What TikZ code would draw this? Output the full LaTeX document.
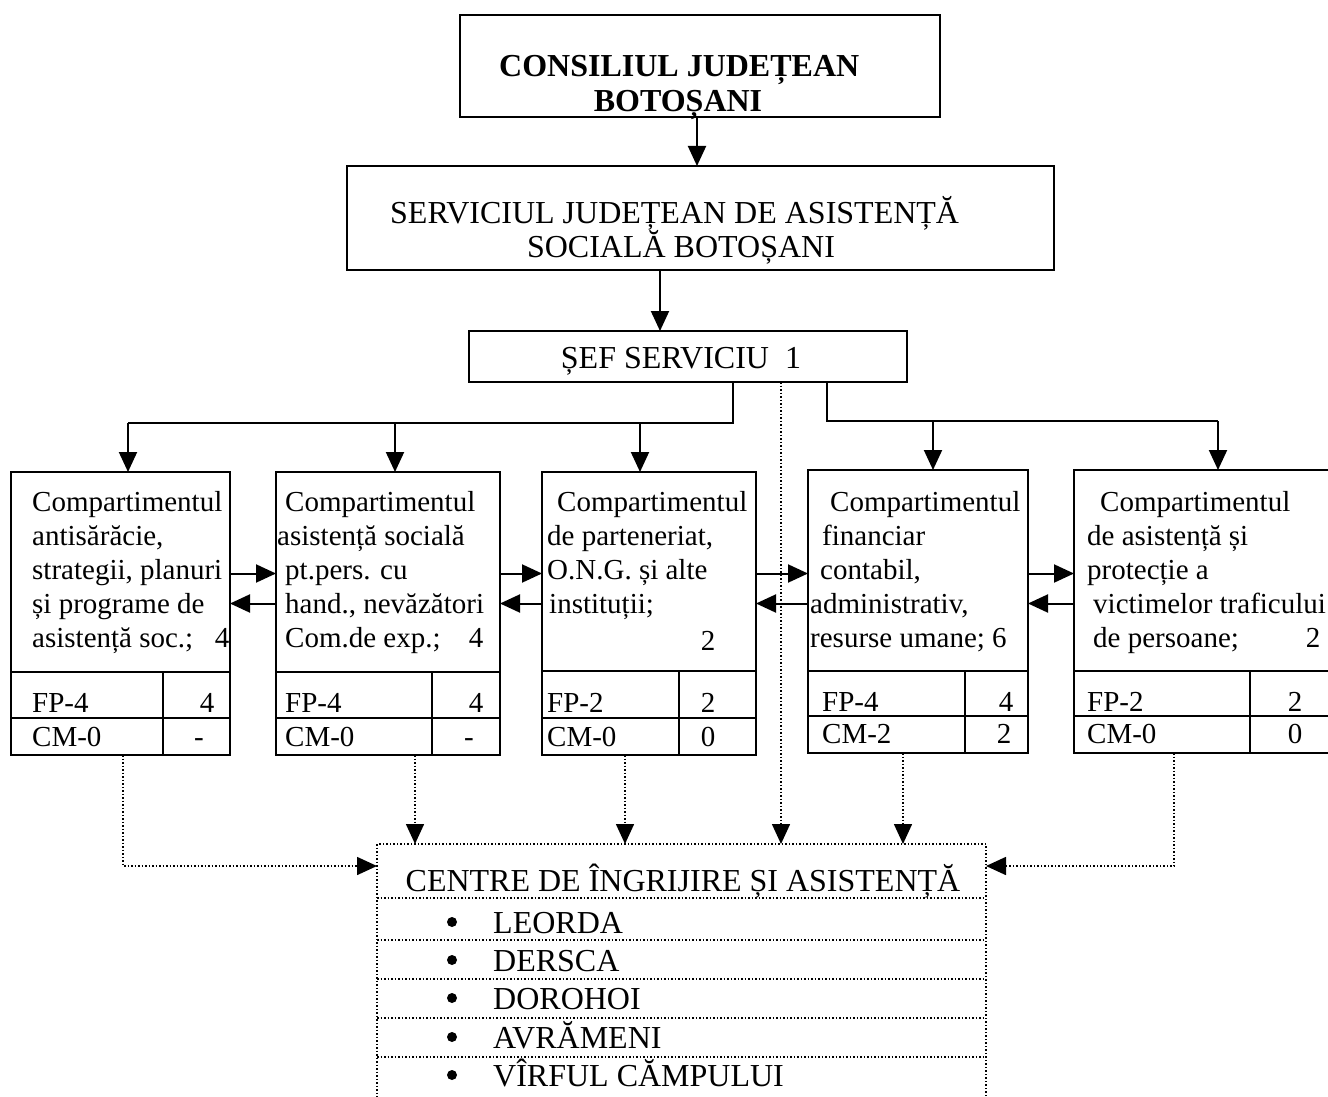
\documentclass[tikz,border=0pt]{standalone}
\usepackage{fontspec}
\setmainfont{Liberation Serif}
\usetikzlibrary{arrows.meta}
\begin{document}
\begin{tikzpicture}[x=1pt,y=-1pt,
  box/.style={draw, line width=2pt, inner sep=0pt, outer sep=0pt, anchor=north west},
  ln/.style={line width=2pt},
  arr/.style={line width=2pt, -{Triangle[length=20pt,width=18pt]}},
  dotl/.style={line width=1.6pt, dash pattern=on 1.5pt off 2pt},
  darr/.style={dotl, -{Triangle[length=20pt,width=18pt]}},
  t/.style={inner sep=0pt, anchor=base west, font=\fontsize{29}{34}\selectfont},
  tc/.style={inner sep=0pt, anchor=base, font=\fontsize{29}{34}\selectfont},
  big/.style={inner sep=0pt, font=\fontsize{32}{36}\selectfont},
  bul/.style={circle, fill, inner sep=0pt, minimum size=10pt},
]
\useasboundingbox (0,0) rectangle (1328,1097);
\clip (0,0) rectangle (1328,1097);
\fill[white] (0,0) rectangle (1328,1097);

% top boxes
\node[box, minimum width=480pt, minimum height=102pt] (cj) at (460,15) {};
\node[big, anchor=base west] (cj1) at (499,77) {\bfseries CONSILIUL JUDEȚEAN};
\node[big, anchor=base] (cj2) at (678,112) {\bfseries BOTOȘANI};

\node[box, minimum width=707pt, minimum height=104pt] (sj) at (347,166) {};
\node[big, anchor=base west] (sj1) at (390,223) {SERVICIUL JUDEȚEAN DE ASISTENȚĂ};
\node[big, anchor=base] (sj2) at (681,257) {SOCIALĂ BOTOȘANI};

\node[box, minimum width=438pt, minimum height=51pt] (sef) at (469,331) {};
\node[big, anchor=base] (sef1) at (681,368) {ȘEF SERVICIU\ \ 1};

% compartment boxes
\node[box, minimum width=219pt, minimum height=283pt] (b1) at (11,472) {};
\node[box, minimum width=224pt, minimum height=283pt] (b2) at (276,472) {};
\node[box, minimum width=214pt, minimum height=283pt] (b3) at (542,472) {};
\node[box, minimum width=220pt, minimum height=283pt] (b4) at (808,470) {};
\node[box, minimum width=266pt, minimum height=283pt] (b5) at (1074,470) {};

% tables
\draw[ln] (11,672) -- (230,672) (11,718) -- (230,718) (163,672) -- (163,755);
\draw[ln] (276,672) -- (500,672) (276,718) -- (500,718) (432,672) -- (432,755);
\draw[ln] (542,671) -- (756,671) (542,718) -- (756,718) (679,671) -- (679,755);
\draw[ln] (808,671) -- (1028,671) (808,716) -- (1028,716) (965,671) -- (965,753);
\draw[ln] (1074,671) -- (1340,671) (1074,716) -- (1340,716) (1250,671) -- (1250,753);

% box 1 text
\node[t] (b1a) at (32,511) {Compartimentul};
\node[t] (b1b) at (32,545) {antisărăcie,};
\node[t] (b1c) at (32,579) {strategii, planuri};
\node[t] (b1d) at (32,613) {și programe de};
\node[t] (b1e) at (32,647) {asistență soc.;};
\node[tc] (b1f) at (222,647) {4};
\node[t] (b1g) at (32,712) {FP-4};
\node[tc] (b1h) at (207,712) {4};
\node[t] (b1i) at (32,746) {CM-0};
\node[tc] (b1j) at (199,746) {-};

% box 2 text
\node[t] (b2a) at (285,511) {Compartimentul};
\node[t] (b2b) at (277,545) {asistență socială};
\node[t] (b2c) at (285,579) {pt.pers. cu};
\node[t] (b2d) at (285,613) {hand., nevăzători};
\node[t] (b2e) at (285,647) {Com.de exp.;};
\node[tc] (b2f) at (476,647) {4};
\node[t] (b2g) at (285,712) {FP-4};
\node[tc] (b2h) at (476,712) {4};
\node[t] (b2i) at (285,746) {CM-0};
\node[tc] (b2j) at (469,746) {-};

% box 3 text
\node[t] (b3a) at (557,511) {Compartimentul};
\node[t] (b3b) at (547,545) {de parteneriat,};
\node[t] (b3c) at (547,579) {O.N.G. și alte};
\node[t] (b3d) at (549,613) {instituții;};
\node[tc] (b3e) at (708,650) {2};
\node[t] (b3f) at (547,712) {FP-2};
\node[tc] (b3g) at (708,712) {2};
\node[t] (b3h) at (547,746) {CM-0};
\node[tc] (b3i) at (708,746) {0};

% box 4 text
\node[t] (b4a) at (830,511) {Compartimentul};
\node[t] (b4b) at (822,545) {financiar};
\node[t] (b4c) at (820,579) {contabil,};
\node[t] (b4d) at (810,613) {administrativ,};
\node[t] (b4e) at (810,647) {resurse umane; 6};
\node[t] (b4f) at (822,711) {FP-4};
\node[tc] (b4g) at (1006,711) {4};
\node[t] (b4h) at (822,743) {CM-2};
\node[tc] (b4i) at (1004,743) {2};

% box 5 text
\node[t] (b5a) at (1100,511) {Compartimentul};
\node[t] (b5b) at (1087,545) {de asistență și};
\node[t] (b5c) at (1087,579) {protecție a};
\node[t] (b5d) at (1093,613) {victimelor traficului};
\node[t] (b5e) at (1093,647) {de persoane;};
\node[tc] (b5f) at (1313,647) {2};
\node[t] (b5g) at (1087,711) {FP-2};
\node[tc] (b5h) at (1295,711) {2};
\node[t] (b5i) at (1087,743) {CM-0};
\node[tc] (b5j) at (1295,743) {0};

% centres box
\node[box, dotl, minimum width=609pt, minimum height=280pt] (cen) at (377,844) {};
\draw[dotl] (377,898) -- (986,898) (377,940) -- (986,940) (377,979) -- (986,979)
            (377,1018) -- (986,1018) (377,1057) -- (986,1057);
\node[big, anchor=base] (c0) at (683,891) {CENTRE DE ÎNGRIJIRE ȘI ASISTENȚĂ};
\node[bul] (c1b) at (452,922) {};
\node[big, anchor=base west] (c1) at (493,933) {LEORDA};
\node[bul] (c2b) at (452,960) {};
\node[big, anchor=base west] (c2) at (493,971) {DERSCA};
\node[bul] (c3b) at (452,998) {};
\node[big, anchor=base west] (c3) at (493,1009) {DOROHOI};
\node[bul] (c4b) at (452,1037) {};
\node[big, anchor=base west] (c4) at (493,1048) {AVRĂMENI};
\node[bul] (c5b) at (452,1075) {};
\node[big, anchor=base west] (c5) at (493,1086) {VÎRFUL CĂMPULUI};

% coordinates
\coordinate (m0) at (697,0);
\coordinate (m1) at (660,0);
\coordinate (j1) at (733,423);
\coordinate (j2) at (827,421);
\coordinate (a1) at (128,0);
\coordinate (a2) at (395,0);
\coordinate (a3) at (640,0);
\coordinate (a4) at (933,0);
\coordinate (a5) at (1218,0);
\coordinate (dv) at (781,0);
\coordinate (k1) at (123,866);
\coordinate (k2) at (415,0);
\coordinate (k3) at (625,0);
\coordinate (k4) at (903,0);
\coordinate (k5) at (1174,866);

% solid connectors
\draw[arr] (cj.south -| m0) -- (sj.north -| m0);
\draw[arr] (sj.south -| m1) -- (sef.north -| m1);
\draw[ln] (sef.south -| j1) -- (j1) -- (j1 -| a1);
\draw[ln] (sef.south -| j2) -- (j2) -- (j2 -| a5);
\draw[arr] (j1 -| a1) -- (b1.north -| a1);
\draw[arr] (j1 -| a2) -- (b2.north -| a2);
\draw[arr] (j1 -| a3) -- (b3.north -| a3);
\draw[arr] (j2 -| a4) -- (b4.north -| a4);
\draw[arr] (j2 -| a5) -- (b5.north -| a5);

\draw[arr] ([yshift=40pt]b1.east) -- ([yshift=40pt]b2.west);
\draw[arr] ([yshift=10pt]b2.west) -- ([yshift=10pt]b1.east);
\draw[arr] ([yshift=40pt]b2.east) -- ([yshift=40pt]b3.west);
\draw[arr] ([yshift=10pt]b3.west) -- ([yshift=10pt]b2.east);
\draw[arr] ([yshift=40pt]b3.east) -- ([yshift=38pt]b4.west);
\draw[arr] ([yshift=8pt]b4.west) -- ([yshift=10pt]b3.east);
\draw[arr] ([yshift=38pt]b4.east) -- ([yshift=38pt]b5.west);
\draw[arr] ([yshift=8pt]b5.west) -- ([yshift=8pt]b4.east);

% dotted connectors
\draw[darr] (sef.south -| dv) -- (cen.north -| dv);
\draw[darr] (b1.south -| k1) -- (k1) -- (k1 -| cen.west);
\draw[darr] (b2.south -| k2) -- (cen.north -| k2);
\draw[darr] (b3.south -| k3) -- (cen.north -| k3);
\draw[darr] (b4.south -| k4) -- (cen.north -| k4);
\draw[darr] (b5.south -| k5) -- (k5) -- (k5 -| cen.east);
\end{tikzpicture}
\end{document}
